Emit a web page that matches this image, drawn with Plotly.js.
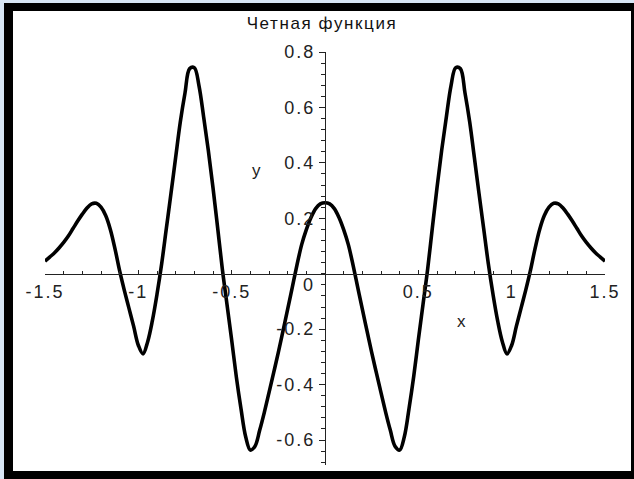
<!DOCTYPE html>
<html>
<head>
<meta charset="utf-8">
<script src="https://cdn.plot.ly/plotly-3.0.1.min.js"></script>
<style>
  html, body { margin: 0; padding: 0; background: #d8e6f5; width: 634px; height: 479px; overflow: hidden; }
  #frame { position: absolute; left: 4px; top: 3px; width: 630px; height: 476px; background: #000; }
  #chart { position: absolute; left: 13px; top: 11px; width: 618px; height: 460px; background: #fff; }
  #chart .xtick text, #chart .ytick text, #chart .annotation-text { letter-spacing: 2px; }
  #chart .gtitle { letter-spacing: 1.6px; }
</style>
</head>
<body>
<div id="frame"></div>
<div id="chart"></div>
<script>
// Even function sampled every 0.025 over [-1.5, 1.5]
const xValues = [
  -1.5, -1.475, -1.45, -1.425, -1.4, -1.375, -1.35, -1.325, -1.3, -1.275,
  -1.25, -1.225, -1.2, -1.175, -1.15, -1.125, -1.1, -1.075, -1.05, -1.025,
  -1.0, -0.975, -0.95, -0.925, -0.9, -0.875, -0.85, -0.825, -0.8, -0.775,
  -0.75, -0.725, -0.7, -0.675, -0.65, -0.625, -0.6, -0.575, -0.55, -0.525,
  -0.5, -0.475, -0.45, -0.425, -0.4, -0.375, -0.35, -0.325, -0.3, -0.275,
  -0.25, -0.225, -0.2, -0.175, -0.15, -0.125, -0.1, -0.075, -0.05, -0.025,
  0,
  0.025, 0.05, 0.075, 0.1, 0.125, 0.15, 0.175, 0.2, 0.225, 0.25,
  0.275, 0.3, 0.325, 0.35, 0.375, 0.4, 0.425, 0.45, 0.475, 0.5,
  0.525, 0.55, 0.575, 0.6, 0.625, 0.65, 0.675, 0.7, 0.725, 0.75,
  0.775, 0.8, 0.825, 0.85, 0.875, 0.9, 0.925, 0.95, 0.975, 1.0,
  1.025, 1.05, 1.075, 1.1, 1.125, 1.15, 1.175, 1.2, 1.225, 1.25,
  1.275, 1.3, 1.325, 1.35, 1.375, 1.4, 1.425, 1.45, 1.475, 1.5
];
const yValues = [
  0.045, 0.060, 0.075, 0.093, 0.113, 0.136, 0.163, 0.190, 0.215, 0.237,
  0.252, 0.254, 0.240, 0.210, 0.160, 0.090, 0.010, -0.060, -0.125, -0.190,
  -0.258, -0.289, -0.245, -0.170, -0.074, 0.036, 0.163, 0.290, 0.420, 0.548,
  0.652, 0.740, 0.743, 0.678, 0.565, 0.445, 0.310, 0.165, 0.017, -0.111,
  -0.239, -0.372, -0.487, -0.588, -0.636, -0.622, -0.565, -0.500, -0.429, -0.357,
  -0.284, -0.206, -0.128, -0.048, 0.032, 0.105, 0.159, 0.203, 0.235, 0.252,
  0.256,
  0.252, 0.235, 0.203, 0.159, 0.105, 0.032, -0.048, -0.128, -0.206, -0.284,
  -0.357, -0.429, -0.500, -0.565, -0.622, -0.636, -0.588, -0.487, -0.372, -0.239,
  -0.111, 0.017, 0.165, 0.310, 0.445, 0.565, 0.678, 0.743, 0.740, 0.652,
  0.548, 0.420, 0.290, 0.163, 0.036, -0.074, -0.170, -0.245, -0.289, -0.258,
  -0.190, -0.125, -0.060, 0.010, 0.090, 0.160, 0.210, 0.240, 0.254, 0.252,
  0.237, 0.215, 0.190, 0.163, 0.136, 0.113, 0.093, 0.075, 0.060, 0.045
];

const xTickVals = [-1.5, -1, -0.5, 0.5, 1, 1.5];
const xTickText = ['-1.5', '-1', '-0.5', '0.5', '1', '1.5'];
const yTickVals = [-0.6, -0.4, -0.2, 0.2, 0.4, 0.6, 0.8];
const yTickText = ['-0.6', '-0.4', '-0.2', '0.2', '0.4', '0.6', '0.8'];

const titleText = 'Четная функция';
const xLabel = 'x';
const yLabel = 'y';

const X_MIN = -1.5, X_MAX = 1.5, Y_MIN = -0.69, Y_MAX = 0.8;
const FONT = 'Liberation Sans, Arial, sans-serif';
const INK = '#222';

const trace = {
  x: xValues,
  y: yValues,
  type: 'scatter',
  mode: 'lines',
  line: { color: '#000', width: 3.6, shape: 'spline', smoothing: 1 },
  hoverinfo: 'skip'
};

const layout = {
  width: 618,
  height: 460,
  margin: { l: 32, r: 26, t: 41, b: 6 },
  paper_bgcolor: '#fff',
  plot_bgcolor: '#fff',
  showlegend: false,
  title: {
    text: titleText,
    font: { family: FONT, size: 17, color: '#111' },
    x: 0.5, xref: 'container', xanchor: 'center',
    y: 1 - 12 / 460, yref: 'container', yanchor: 'middle'
  },
  xaxis: {
    range: [X_MIN, X_MAX],
    anchor: 'free',
    position: (0 - Y_MIN) / (Y_MAX - Y_MIN),
    showgrid: false, zeroline: false,
    showline: true, linecolor: INK, linewidth: 1,
    tickmode: 'array', tickvals: xTickVals, ticktext: xTickText,
    ticks: 'inside', ticklen: 4, tickcolor: INK, tickwidth: 1,
    ticklabelstandoff: 2,
    minor: { tickmode: 'linear', tick0: 0, dtick: 0.1, ticks: 'inside', ticklen: 3, tickcolor: INK },
    tickfont: { family: FONT, size: 18, color: INK },
    fixedrange: true
  },
  yaxis: {
    range: [Y_MIN, Y_MAX],
    anchor: 'free',
    position: (0 - X_MIN) / (X_MAX - X_MIN),
    showgrid: false, zeroline: false,
    showline: true, linecolor: INK, linewidth: 1,
    tickmode: 'array', tickvals: yTickVals, ticktext: yTickText,
    ticks: 'outside', ticklen: 6, tickcolor: INK, tickwidth: 1,
    minor: { tickmode: 'linear', tick0: 0, dtick: 0.04, ticks: 'outside', ticklen: 4, tickcolor: INK },
    tickfont: { family: FONT, size: 18, color: INK },
    fixedrange: true
  },
  annotations: [
    { x: -0.086, y: -0.041, xref: 'x', yref: 'y', text: '0', showarrow: false,
      font: { family: FONT, size: 18, color: INK } },
    { x: 0.734, y: -0.174, xref: 'x', yref: 'y', text: xLabel, showarrow: false,
      font: { family: FONT, size: 17, color: INK } },
    { x: -0.364, y: 0.372, xref: 'x', yref: 'y', text: yLabel, showarrow: false,
      font: { family: FONT, size: 17, color: INK } }
  ]
};

Plotly.newPlot('chart', [trace], layout, { displayModeBar: false, staticPlot: true });
</script>
</body>
</html>
